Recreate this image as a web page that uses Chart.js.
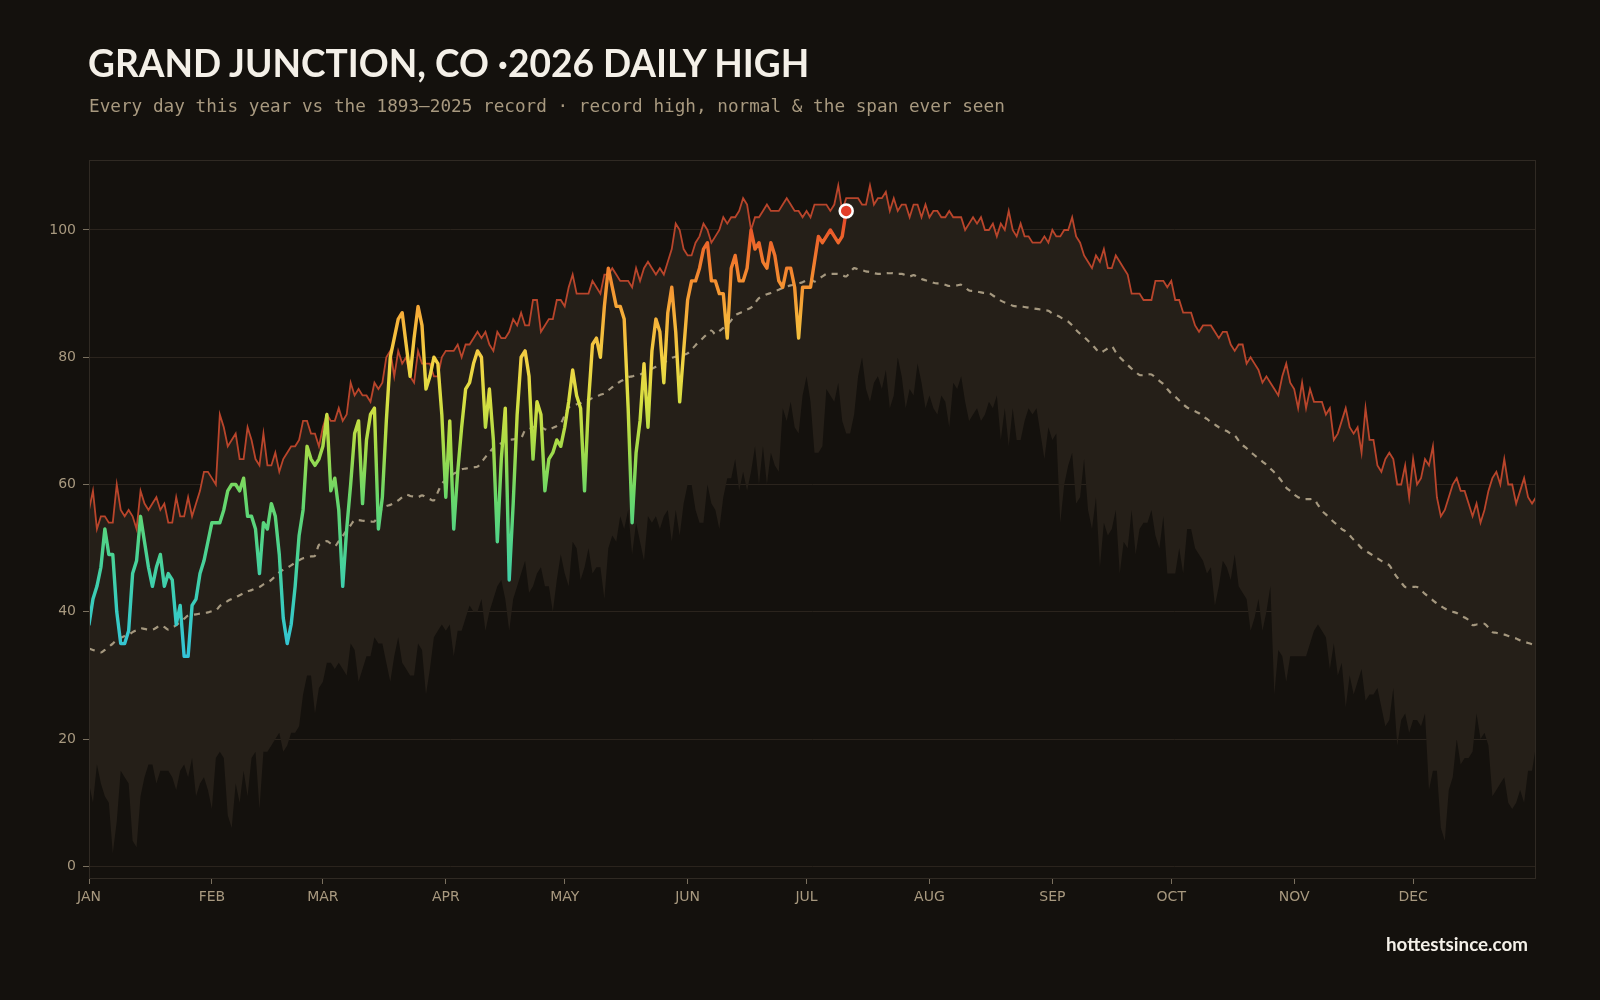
<!DOCTYPE html>
<html>
<head>
<meta charset="utf-8">
<script src="https://cdn.jsdelivr.net/npm/chart.js@4.4.1/dist/chart.umd.min.js"></script>
<style>
	html, body { margin: 0; padding: 0; background: #14110d; }
	#wrap { position: relative; width: 1600px; height: 1000px; overflow: hidden; }
	#title { position: absolute; left: 88px; top: 39px; font-family: 'Lato', sans-serif; font-weight: 700; font-size: 39px; color: #f4f0e8; white-space: nowrap; transform: scaleX(0.95); transform-origin: left top; }
	#subtitle { position: absolute; left: 89px; top: 96px; font-family: 'DejaVu Sans Mono', monospace; font-size: 17.7px; color: #a8997f; white-space: nowrap; }
	#footer { position: absolute; right: 72px; top: 932px; font-family: 'Lato', sans-serif; font-weight: 700; font-size: 18.8px; color: #f4f0e8; white-space: nowrap; }
	#chart { position: absolute; left: 0; top: 0; }
</style>
</head>
<body>
<div id="wrap">
	<canvas id="chart" width="1600" height="1000"></canvas>
	<div id="title">GRAND JUNCTION, CO ·2026 DAILY HIGH</div>
	<div id="subtitle">Every day this year vs the 1893–2025 record · record high, normal &amp; the span ever seen</div>
	<div id="footer">hottestsince.com</div>
</div>
<script>
// month ticks (day of year) and their labels
const monthStarts = [0, 31, 59, 90, 120, 151, 181, 212, 243, 273, 304, 334];
const monthLabels = ['JAN', 'FEB', 'MAR', 'APR', 'MAY', 'JUN', 'JUL', 'AUG', 'SEP', 'OCT', 'NOV', 'DEC'];
const yTicks = [0, 20, 40, 60, 80, 100];

// record high, 1893-2025, one value per day
const recordHigh = [
	56, 59, 53, 55, 55, 54, 54, 60, 56, 55,
	56, 55, 53, 59, 57, 56, 57, 58, 56, 57,
	54, 54, 58, 55, 55, 58, 55, 57, 59, 62,
	62, 61, 60, 71, 69, 66, 67, 68, 64, 64,
	69, 67, 64, 63, 68, 63, 63, 65, 62, 64,
	65, 66, 66, 67, 70, 70, 68, 68, 66, 69,
	71, 70, 70, 72, 70, 71, 76, 74, 75, 74,
	74, 73, 76, 75, 76, 80, 81, 77, 81, 79,
	80, 77, 76, 81, 79, 79, 79, 77, 77, 80,
	81, 81, 81, 82, 80, 82, 82, 83, 84, 83,
	84, 82, 81, 84, 83, 83, 84, 86, 85, 87,
	85, 85, 89, 89, 84, 85, 86, 86, 89, 89,
	88, 91, 93, 90, 90, 90, 90, 92, 91, 90,
	93, 93, 94, 93, 92, 92, 92, 91, 94, 92,
	94, 95, 94, 93, 94, 93, 95, 97, 101, 100,
	97, 96, 96, 98, 99, 101, 100, 98, 99, 100,
	102, 101, 102, 102, 103, 105, 104, 100, 102, 102,
	103, 104, 103, 103, 103, 104, 105, 104, 103, 103,
	102, 103, 102, 104, 104, 104, 104, 103, 104, 107,
	103, 105, 105, 105, 105, 104, 104, 107, 104, 105,
	105, 106, 103, 105, 103, 104, 104, 102, 104, 104,
	102, 104, 102, 103, 103, 102, 102, 103, 102, 102,
	102, 100, 101, 102, 101, 102, 100, 100, 101, 99,
	101, 100, 103, 100, 99, 101, 99, 99, 98, 98,
	98, 99, 98, 100, 99, 99, 100, 100, 102, 99,
	98, 96, 95, 94, 96, 95, 97, 94, 94, 96,
	95, 94, 93, 90, 90, 90, 89, 89, 89, 92,
	92, 92, 91, 92, 89, 89, 87, 87, 87, 85,
	84, 85, 85, 85, 84, 83, 84, 84, 82, 81,
	82, 82, 79, 80, 79, 78, 76, 77, 76, 75,
	74, 77, 79, 76, 75, 72, 76, 72, 75, 73,
	73, 73, 71, 72, 67, 68, 70, 72, 69, 68,
	69, 65, 72, 67, 67, 63, 62, 64, 65, 64,
	60, 60, 63, 58, 64, 60, 61, 64, 63, 66,
	58, 55, 56, 58, 60, 61, 59, 59, 57, 55,
	57, 54, 56, 59, 61, 62, 60, 64, 60, 60,
	57, 59, 61, 58, 57, 58
];

// lowest daily high ever seen (bottom of the span)
const recordLow = [
	13, 10, 16, 13, 11, 10, 2, 7, 15, 14,
	13, 4, 3, 11, 14, 16, 16, 13, 15, 15,
	15, 14, 12, 15, 16, 14, 17, 11, 13, 14,
	12, 9, 17, 18, 17, 8, 6, 13, 10, 15,
	11, 17, 18, 9, 18, 18, 19, 20, 21, 18,
	19, 21, 21, 22, 27, 30, 30, 24, 28, 29,
	32, 32, 31, 32, 31, 30, 35, 34, 29, 31,
	33, 33, 36, 35, 35, 32, 29, 33, 36, 32,
	31, 30, 30, 35, 34, 27, 31, 36, 37, 38,
	37, 38, 33, 37, 37, 39, 41, 40, 40, 42,
	37, 40, 42, 44, 45, 42, 37, 42, 44, 46,
	48, 43, 44, 46, 47, 44, 44, 40, 45, 49,
	46, 44, 51, 50, 45, 47, 50, 46, 47, 47,
	42, 50, 52, 51, 55, 53, 56, 49, 54, 51,
	48, 55, 54, 55, 53, 55, 56, 51, 56, 52,
	57, 60, 60, 56, 54, 54, 60, 57, 56, 53,
	58, 61, 61, 64, 59, 62, 59, 62, 66, 60,
	66, 60, 65, 63, 62, 72, 70, 73, 69, 68,
	74, 77, 73, 65, 65, 66, 75, 74, 73, 76,
	70, 68, 68, 71, 77, 80, 75, 73, 76, 77,
	75, 78, 72, 74, 80, 77, 72, 75, 74, 79,
	76, 72, 74, 72, 71, 74, 73, 69, 76, 75,
	77, 73, 70, 71, 72, 70, 71, 73, 72, 74,
	67, 72, 66, 72, 67, 67, 70, 72, 71, 72,
	68, 64, 69, 67, 68, 54, 60, 63, 65, 57,
	58, 64, 56, 53, 58, 47, 54, 52, 53, 56,
	46, 51, 50, 56, 49, 53, 54, 54, 56, 52,
	50, 55, 46, 46, 46, 50, 46, 53, 53, 50,
	49, 48, 46, 47, 41, 44, 48, 47, 45, 49,
	44, 43, 42, 37, 39, 42, 37, 40, 44, 27,
	34, 33, 29, 33, 33, 33, 33, 33, 35, 37,
	38, 37, 36, 31, 35, 30, 32, 25, 30, 27,
	29, 31, 26, 27, 27, 28, 25, 22, 23, 28,
	19, 23, 24, 21, 23, 23, 22, 24, 12, 15,
	15, 6, 4, 12, 14, 20, 16, 17, 17, 18,
	24, 20, 21, 19, 11, 12, 13, 14, 10, 9,
	10, 12, 10, 15, 15, 19
];

// normal daily high
const normalHigh = [
	34.2, 34.0, 33.8, 33.6, 34.0, 34.5, 35.0, 35.6, 35.9, 36.2,
	36.4, 36.8, 37.1, 37.4, 37.3, 37.2, 37.2, 37.5, 37.9, 37.6,
	37.2, 37.5, 37.9, 38.4, 38.9, 39.4, 39.5, 39.6, 39.7, 39.8,
	39.9, 40.1, 40.2, 40.9, 41.3, 41.7, 42.0, 42.3, 42.6, 42.9,
	43.2, 43.4, 43.7, 43.9, 44.3, 44.6, 45.0, 45.6, 46.2, 46.6,
	46.9, 47.3, 47.7, 48.1, 48.4, 48.5, 48.7, 48.8, 50.5, 50.8,
	51.1, 50.7, 50.3, 51.1, 51.9, 52.8, 53.6, 54.4, 54.4, 54.3,
	54.3, 54.2, 54.2, 55.2, 56.3, 56.6, 56.8, 57.1, 57.5, 58.0,
	58.4, 58.2, 58.1, 58.0, 58.3, 58.0, 57.7, 57.5, 58.8, 60.1,
	60.7, 61.3, 61.7, 62.0, 62.4, 62.5, 62.6, 62.7, 62.8, 63.5,
	64.3, 65.0, 65.8, 66.2, 66.5, 66.9, 67.0, 67.1, 67.2, 67.3,
	68.5, 68.7, 69.0, 69.2, 69.0, 68.7, 68.5, 68.9, 69.2, 69.6,
	70.9, 72.1, 72.3, 72.6, 72.8, 73.1, 73.3, 73.6, 73.8, 74.1,
	74.3, 74.8, 75.3, 75.8, 76.2, 76.5, 76.9, 77.0, 77.2, 77.3,
	77.6, 77.9, 78.2, 78.5, 78.8, 79.2, 79.5, 79.9, 80.1, 80.3,
	80.4, 80.6, 81.2, 81.9, 82.5, 83.1, 83.7, 84.2, 83.6, 84.1,
	84.6, 85.1, 85.8, 86.6, 86.9, 87.2, 87.5, 87.8, 88.5, 89.3,
	89.6, 89.9, 90.1, 90.4, 90.6, 90.9, 91.1, 91.3, 91.4, 91.6,
	91.8, 92.1, 92.3, 91.9, 92.3, 92.7, 93.1, 93.1, 93.1, 93.1,
	92.9, 92.7, 93.4, 94.0, 93.8, 93.7, 93.5, 93.4, 93.2, 93.1,
	93.1, 93.2, 93.2, 93.2, 93.1, 93.1, 92.9, 92.7, 92.9, 92.6,
	92.3, 92.1, 91.9, 91.7, 91.6, 91.6, 91.4, 91.2, 91.3, 91.3,
	91.4, 91.0, 90.5, 90.4, 90.3, 90.2, 90.1, 90.1, 89.7, 89.3,
	88.9, 88.6, 88.4, 88.1, 88.0, 88.0, 87.9, 87.8, 87.7, 87.6,
	87.5, 87.4, 87.3, 86.9, 86.6, 86.3, 85.9, 85.6, 85.0, 84.3,
	83.7, 83.2, 82.6, 82.0, 81.3, 80.7, 81.0, 81.4, 81.7, 80.8,
	80.0, 79.4, 78.8, 78.2, 77.7, 77.2, 77.2, 77.3, 77.3, 76.8,
	76.3, 75.8, 75.0, 74.3, 73.8, 73.2, 72.6, 72.1, 71.8, 71.5,
	71.2, 70.7, 70.3, 69.8, 69.4, 69.0, 68.7, 68.4, 68.0, 67.7,
	66.9, 66.2, 65.7, 65.1, 64.6, 64.1, 63.6, 63.1, 62.5, 61.9,
	61.2, 60.4, 59.5, 59.0, 58.4, 58.0, 57.7, 57.7, 57.7, 57.7,
	56.8, 55.9, 55.3, 54.7, 54.1, 53.6, 53.0, 52.6, 52.0, 51.3,
	50.7, 50.0, 49.6, 49.2, 48.8, 48.4, 48.0, 47.6, 47.3, 46.3,
	45.4, 44.6, 43.9, 43.9, 43.9, 43.9, 43.4, 42.8, 42.3, 41.8,
	41.3, 40.9, 40.5, 40.2, 40.0, 39.8, 39.4, 39.1, 38.7, 37.9,
	38.0, 38.0, 38.1, 37.5, 36.8, 36.7, 36.5, 36.4, 36.2, 36.0,
	35.8, 35.5, 35.3, 35.1, 34.9, 34.7
];

// 2026 daily highs so far (Jan 1 .. Jul 11)
const thisYear = [
	38, 42, 44, 47, 53, 49, 49, 40, 35, 35,
	37, 46, 48, 55, 51, 47, 44, 47, 49, 44,
	46, 45, 38, 41, 33, 33, 41, 42, 46, 48,
	51, 54, 54, 54, 56, 59, 60, 60, 59, 61,
	55, 55, 53, 46, 54, 53, 57, 55, 49, 39,
	35, 38, 44, 52, 56, 66, 64, 63, 64, 66,
	71, 59, 61, 56, 44, 53, 60, 68, 70, 57,
	67, 71, 72, 53, 58, 70, 80, 83, 86, 87,
	82, 77, 83, 88, 85, 75, 77, 80, 79, 71,
	58, 70, 53, 62, 69, 75, 76, 79, 81, 80,
	69, 75, 67, 51, 64, 72, 45, 57, 71, 80,
	81, 77, 64, 73, 71, 59, 64, 65, 67, 66,
	69, 73, 78, 74, 72, 59, 73, 82, 83, 80,
	88, 94, 91, 88, 88, 86, 72, 54, 65, 70,
	79, 69, 81, 86, 84, 76, 87, 91, 84, 73,
	81, 89, 92, 92, 94, 97, 98, 92, 92, 90,
	90, 83, 94, 96, 92, 92, 94, 100, 97, 98,
	95, 94, 98, 96, 92, 91, 94, 94, 91, 83,
	91, 91, 91, 95, 99, 98, 99, 100, 99, 98,
	99, 103
];

// line colour by temperature (value, colour)
const heatStops = [
	[33, '#34c3d8'], [42, '#3acdb9'], [50, '#4dd38e'], [58, '#68d76a'],
	[66, '#a6db48'], [73, '#d6df42'], [79, '#f1d444'], [86, '#f6b23a'],
	[92, '#f48e30'], [98, '#ee682b'], [103, '#e2412a']
];

const toPoints = arr => arr.map((v, i) => ({ x: i, y: v }));

let heatGradient = null;
let gradientKey = '';

function getHeatGradient(chart) {
	const { ctx, chartArea, scales: { y } } = chart;
	if (!chartArea) return '#f48e30';
	const top = y.getPixelForValue(heatStops[heatStops.length - 1][0]);
	const bottom = y.getPixelForValue(heatStops[0][0]);
	const key = top + ':' + bottom;
	if (heatGradient && key === gradientKey) return heatGradient;
	heatGradient = ctx.createLinearGradient(0, bottom, 0, top);
	const lo = heatStops[0][0];
	const span = heatStops[heatStops.length - 1][0] - lo;
	heatStops.forEach(([v, c]) => heatGradient.addColorStop((v - lo) / span, c));
	gradientKey = key;
	return heatGradient;
}

const plotFrame = {
	id: 'plotFrame',
	afterDraw(chart) {
		const { ctx, chartArea: { top, bottom, left, right } } = chart;
		ctx.save();
		ctx.strokeStyle = '#302a23';
		ctx.lineWidth = 1;
		ctx.strokeRect(left + 0.5, top + 0.5, right - left - 1, bottom - top - 1);
		ctx.restore();
	}
};

Chart.defaults.font.family = "'DejaVu Sans', sans-serif";
Chart.defaults.color = '#a8997f';

const lastIndex = thisYear.length - 1;

new Chart(document.getElementById('chart'), {
	type: 'line',
	data: {
		datasets: [{
			label: '2026',
			data: toPoints(thisYear),
			borderColor: ctx => getHeatGradient(ctx.chart),
			borderWidth: 3.4,
			borderJoinStyle: 'round',
			borderCapStyle: 'round',
			tension: 0,
			pointRadius: ctx => ctx.dataIndex === lastIndex ? 6.5 : 0,
			pointBackgroundColor: '#e23d29',
			pointBorderColor: '#ffffff',
			pointBorderWidth: 2.5,
			fill: false,
			order: 0
		}, {
			label: 'Normal',
			data: toPoints(normalHigh),
			borderColor: '#a5987f',
			borderWidth: 2.2,
			borderDash: [6, 6],
			pointRadius: 0,
			tension: 0.3,
			fill: false,
			order: 1
		}, {
			label: 'Record high',
			data: toPoints(recordHigh),
			borderColor: '#b9452b',
			borderWidth: 1.8,
			pointRadius: 0,
			tension: 0,
			fill: { target: '+1', above: '#251f18', below: '#251f18' },
			order: 2
		}, {
			label: 'Record low high',
			data: toPoints(recordLow),
			borderWidth: 0,
			borderColor: 'rgba(0,0,0,0)',
			pointRadius: 0,
			tension: 0,
			fill: false,
			order: 3
		}]
	},
	options: {
		responsive: false,
		animation: false,
		layout: {
			padding: { top: 160, right: 64, left: 0, bottom: 0 }
		},
		plugins: {
			legend: { display: false },
			tooltip: { enabled: false }
		},
		scales: {
			x: {
				type: 'linear',
				min: 0,
				max: 365,
				afterBuildTicks: scale => {
					scale.ticks = monthStarts.map(v => ({ value: v }));
				},
				afterFit: scale => {
					scale.height = 121;
				},
				ticks: {
					autoSkip: false,
					maxRotation: 0,
					padding: 5,
					font: { size: 14 },
					color: '#a8997f',
					callback: (value, index) => monthLabels[index]
				},
				grid: {
					drawOnChartArea: false,
					drawTicks: true,
					tickLength: 5,
					color: '#7a705f'
				},
				border: { display: false }
			},
			y: {
				min: -2,
				max: 111,
				afterBuildTicks: scale => {
					scale.ticks = yTicks.map(v => ({ value: v }));
				},
				afterFit: scale => {
					scale.width = 89;
				},
				ticks: {
					padding: 7,
					font: { size: 14 },
					color: '#a8997f'
				},
				grid: {
					color: '#2b241d',
					lineWidth: 1,
					tickLength: 6,
					tickColor: '#7a705f'
				},
				border: { display: false }
			}
		}
	},
	plugins: [plotFrame]
});
</script>
</body>
</html>
